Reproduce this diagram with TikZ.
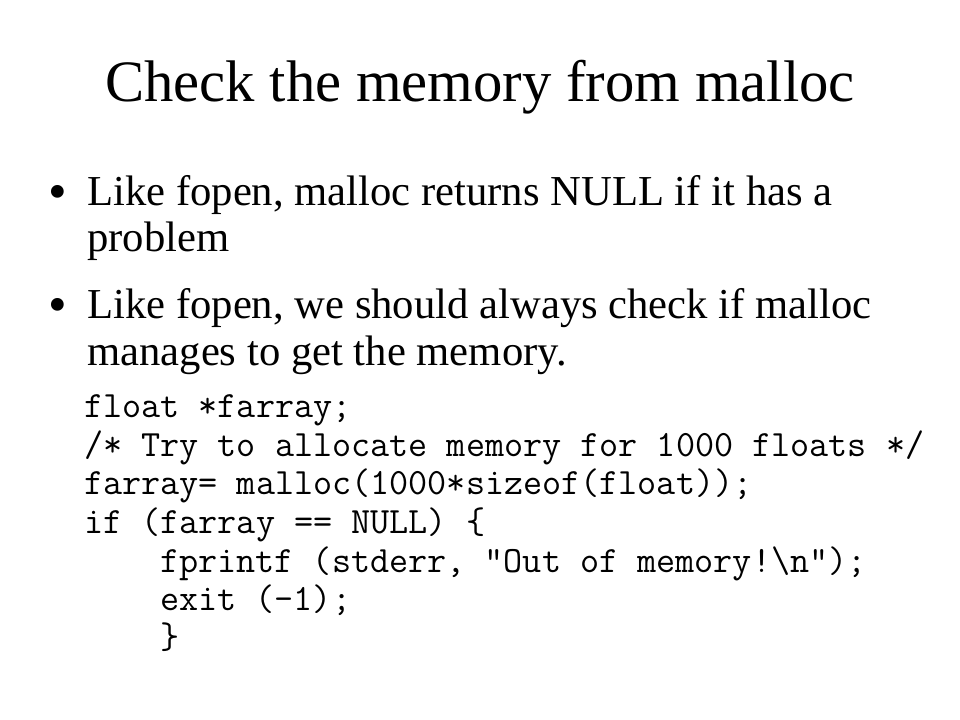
\documentclass[tikz,border=0pt]{standalone}
\usepackage{fontspec}
\setmainfont{Liberation Serif}

\begin{document}
\begin{tikzpicture}[x=0.75pt,y=-0.75pt,
    titletext/.style={anchor=base, inner sep=0pt, font=\fontsize{44}{48}\selectfont},
    dottext/.style={anchor=base west, inner sep=0pt, font=\fontsize{40}{44}\selectfont},
    bullettext/.style={anchor=base west, inner sep=0pt, font=\fontsize{32}{36}\selectfont},
    codetext/.style={anchor=base west, inner sep=0pt, font=\fontsize{27.8}{30}\ttfamily}]

    \useasboundingbox (0,0) rectangle (960,720);
    \fill[white] (0,0) rectangle (960,720);

    \node[titletext] (title) at (480,102) {Check the memory from malloc};

    % bullets
    \node[dottext] (dotA) at (48,210) {\textbullet};
    \node[bullettext] (bulletA1) at (87,206) {Like fopen, malloc returns NULL if it has a};
    \node[bullettext] (bulletA2) at (87,252) {problem};

    \node[dottext] (dotB) at (48,322) {\textbullet};
    \node[bullettext] (bulletB1) at (87,318) {Like fopen, we should always check if malloc};
    \node[bullettext] (bulletB2) at (87,365) {manages to get the memory.};

    % code
    \node[codetext] (decl) at (84,417) {float *farray;};
    \node[codetext] (comment) at (84,456) {/* Try to allocate memory for 1000 floats */};
    \node[codetext] (alloc) at (84,494) {farray= malloc(1000*sizeof(float));};
    \node[codetext] (test) at (84,533) {if (farray == NULL) \{};
    \node[codetext] (report) at (160,572) {fprintf (stderr, "Out of memory!\textbackslash n");};
    \node[codetext] (quit) at (160,610) {exit (-1);};
    \node[codetext] (close) at (160,648) {\}};

\end{tikzpicture}
\end{document}
